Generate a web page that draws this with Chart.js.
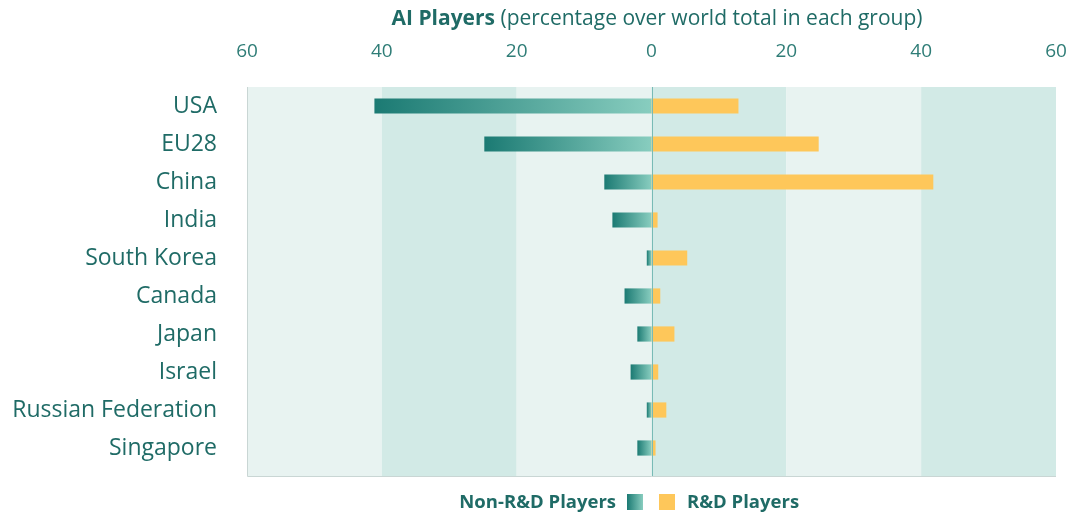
<!DOCTYPE html>
<html>
<head>
<meta charset="utf-8">
<script src="https://cdn.jsdelivr.net/npm/chart.js@4"></script>
<style>
  body { margin: 0; background: #fff; }
  #wrap { width: 1075px; height: 518px; }
</style>
</head>
<body>
<div id="wrap"><canvas id="aiChart"></canvas></div>
<script>
var countries = ['USA', 'EU28', 'China', 'India', 'South Korea', 'Canada', 'Japan', 'Israel', 'Russian Federation', 'Singapore'];
var nonRdPlayers = [41.1, 24.8, 7.0, 5.8, 0.7, 4.0, 2.1, 3.1, 0.7, 2.1]; // drawn to the left
var rdPlayers = [12.9, 24.8, 41.8, 0.9, 5.3, 1.3, 3.4, 1.0, 2.2, 0.6];
var xTicks = [-60, -40, -20, 0, 20, 40, 60];

var teal = '#1f6b66';
var font = 'Open Sans';
var extraBottom = 9; // plot background runs a bit below the last row

// teal gradient from the end of each bar to the zero line
function tealGradient(c) {
    var chart = c.chart;
    if (!chart.chartArea || !chart.scales.x) return '#3f9a90';
    var x = chart.scales.x;
    var v = c.raw;
    var g = chart.ctx.createLinearGradient(x.getPixelForValue(v), 0, x.getPixelForValue(0), 0);
    g.addColorStop(0, '#1b7a73');
    g.addColorStop(1, '#88cdbf');
    return g;
}

var backdrop = {
    id: 'backdrop',
    beforeDatasetsDraw: function (chart) {
        var c = chart.ctx, a = chart.chartArea, x = chart.scales.x;
        var bottom = a.bottom + extraBottom;
        var bands = ['#e8f3f1', '#d2eae6', '#e8f3f1', '#d2eae6', '#e8f3f1', '#d2eae6'];
        c.save();
        for (var i = 0; i < xTicks.length - 1; i++) {
            var x0 = x.getPixelForValue(xTicks[i]), x1 = x.getPixelForValue(xTicks[i + 1]);
            c.fillStyle = bands[i];
            c.fillRect(x0, a.top, x1 - x0, bottom - a.top);
        }
        c.strokeStyle = '#c9d6d4';
        c.lineWidth = 1;
        c.beginPath();
        c.moveTo(a.left + 0.5, a.top);
        c.lineTo(a.left + 0.5, bottom + 0.5);
        c.lineTo(a.right, bottom + 0.5);
        c.stroke();
        c.restore();
    },
    afterDatasetsDraw: function (chart) {
        var c = chart.ctx, a = chart.chartArea;
        var z = Math.round(chart.scales.x.getPixelForValue(0)) + 0.5;
        c.save();
        c.strokeStyle = '#78bbb6';
        c.lineWidth = 1;
        c.beginPath();
        c.moveTo(z, a.top);
        c.lineTo(z, a.bottom + extraBottom);
        c.stroke();
        c.restore();
    },
    afterDraw: function (chart) {
        var c = chart.ctx;
        c.save();
        c.fillStyle = teal;
        c.textBaseline = 'middle';
        // title
        c.font = 'bold 21px "' + font + '"';
        var t1 = 'AI Players ';
        var w1 = c.measureText(t1).width;
        c.font = '21px "' + font + '"';
        var t2 = '(percentage over world total in each group)';
        var w2 = c.measureText(t2).width;
        var sx = 657 - (w1 + w2) / 2;
        c.font = 'bold 21px "' + font + '"';
        c.fillText(t1, sx, 19);
        c.font = '21px "' + font + '"';
        c.fillText(t2, sx + w1, 19);
        // legend
        var ly = 502;
        c.font = 'bold 18.5px "' + font + '"';
        c.textAlign = 'right';
        c.fillText('Non-R&D Players', 616, ly + 1);
        var g = c.createLinearGradient(627, 0, 643, 0);
        g.addColorStop(0, '#1b7a73');
        g.addColorStop(1, '#88cdbf');
        c.fillStyle = g;
        c.fillRect(627, ly - 8, 16, 16);
        c.fillStyle = '#fec75a';
        c.fillRect(659, ly - 8, 16, 16);
        c.fillStyle = teal;
        c.textAlign = 'left';
        c.fillText('R&D Players', 687, ly + 1);
        c.restore();
    }
};

new Chart(document.getElementById('aiChart'), {
    type: 'bar',
    data: {
        labels: countries,
        datasets: [{
            label: 'Non-R&D Players',
            data: nonRdPlayers.map(function (v) { return -v; }),
            backgroundColor: tealGradient,
            borderWidth: 0,
            barPercentage: 0.4,
            categoryPercentage: 1
        }, {
            label: 'R&D Players',
            data: rdPlayers,
            backgroundColor: '#fec75a',
            borderWidth: 0,
            barPercentage: 0.4,
            categoryPercentage: 1
        }]
    },
    options: {
        indexAxis: 'y',
        responsive: true,
        maintainAspectRatio: false,
        animation: false,
        layout: { padding: { top: 40, right: 19, bottom: 42 + extraBottom, left: 0 } },
        plugins: {
            legend: { display: false },
            title: { display: false },
            tooltip: { enabled: false }
        },
        scales: {
            x: {
                position: 'top',
                stacked: true,
                min: -60,
                max: 60,
                afterFit: function (s) { s.height = 47; s.paddingLeft = 0; s.paddingRight = 0; },
                afterBuildTicks: function (s) { s.ticks = xTicks.map(function (v) { return { value: v }; }); },
                ticks: {
                    padding: 24,
                    color: '#2f7d77',
                    font: { family: font, size: 19 },
                    callback: function (v) { return Math.abs(v); }
                },
                grid: { display: false, drawTicks: false },
                border: { display: false }
            },
            y: {
                stacked: true,
                afterFit: function (s) { s.width = 247; s.paddingTop = 0; s.paddingBottom = 0; },
                ticks: {
                    padding: 30,
                    color: teal,
                    font: { family: font, size: 23 }
                },
                grid: { display: false, drawTicks: false },
                border: { display: false }
            }
        }
    },
    plugins: [backdrop]
});
</script>
</body>
</html>
